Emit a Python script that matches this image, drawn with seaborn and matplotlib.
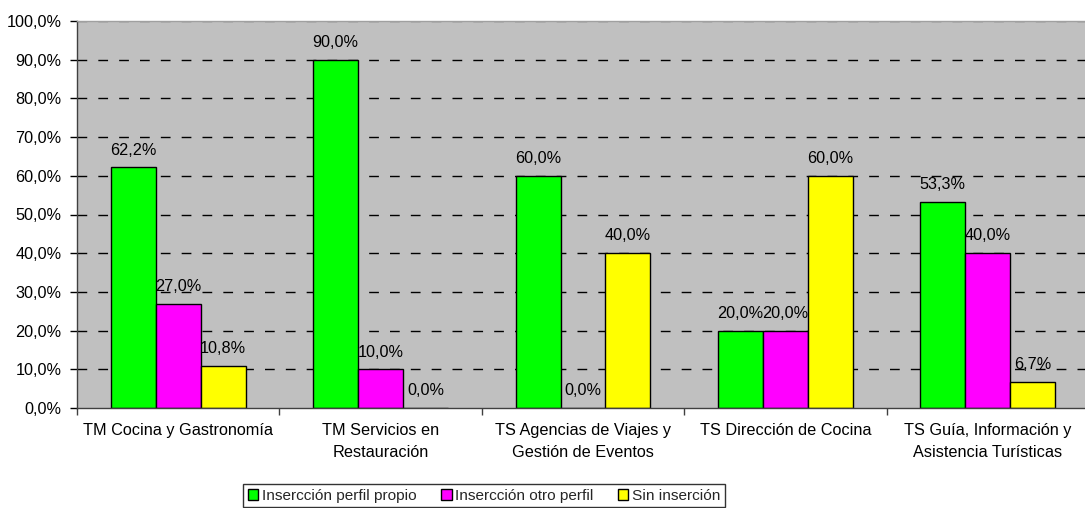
import matplotlib
matplotlib.use("Agg")
import matplotlib.pyplot as plt
import seaborn as sns
import pandas as pd
from matplotlib.patches import Patch
from matplotlib.ticker import FixedLocator, FuncFormatter

categories = [
    "TM Cocina y Gastronomía",
    "TM Servicios en\nRestauración",
    "TS Agencias de Viajes y\nGestión de Eventos",
    "TS Dirección de Cocina",
    "TS Guía, Información y\nAsistencia Turísticas",
]
series_names = ["Insercción perfil propio", "Insercción otro perfil", "Sin inserción"]
propio = [62.2, 90.0, 60.0, 20.0, 53.3]
otro = [27.0, 10.0, 0.0, 20.0, 40.0]
sin = [10.8, 0.0, 40.0, 60.0, 6.7]
colors = ["#00FF00", "#FF00FF", "#FFFF00"]
yticks = [0, 10, 20, 30, 40, 50, 60, 70, 80, 90, 100]

rows = []
for name, vals in zip(series_names, [propio, otro, sin]):
    for c, v in zip(categories, vals):
        rows.append({"cat": c, "serie": name, "val": v})
df = pd.DataFrame(rows)

sns.set_theme(style="white")
plt.rcParams["font.family"] = ["Liberation Sans", "DejaVu Sans"]
FS = 11.7

fig = plt.figure(figsize=(10.85, 5.08), dpi=100)
ax = fig.add_axes([77 / 1085, 1 - 408 / 508, (1089 - 77) / 1085, (408 - 21) / 508])

sns.barplot(data=df, x="cat", y="val", hue="serie", order=categories,
            hue_order=series_names, palette=colors, width=2 / 3,
            edgecolor="black", linewidth=1, saturation=1, ax=ax, legend=False)

ax.set_facecolor("#C0C0C0")
ax.set_ylim(0, 100)
ax.set_xlim(-0.5, len(categories) - 0.5)
ax.set_xlabel("")
ax.set_ylabel("")

ax.yaxis.set_major_locator(FixedLocator(yticks))
ax.yaxis.set_major_formatter(FuncFormatter(lambda v, p: f"{v:.1f}%".replace(".", ",")))
ax.tick_params(axis="y", which="major", length=5, width=1, color="black",
               labelsize=FS, pad=6, left=True, labelcolor="black")
for y in yticks[1:-1]:
    ax.axhline(y, color="black", linestyle=(0, (7, 8)), linewidth=1, zorder=0.5)
ax.axhline(100, color="#606060", linestyle=(0, (7, 8)), linewidth=1, zorder=0.5)

ax.set_xticks(range(len(categories)))
ax.set_xticklabels(categories, fontsize=FS, linespacing=1.6, color="black")
ax.tick_params(axis="x", which="major", length=0, pad=11)
ax.xaxis.set_minor_locator(FixedLocator([i + 0.5 for i in range(-1, len(categories))]))
ax.tick_params(axis="x", which="minor", length=5, width=1, color="#404040", bottom=True)

for side in ["left", "bottom"]:
    ax.spines[side].set_color("#404040")
    ax.spines[side].set_linewidth(1)
for side in ["top", "right"]:
    ax.spines[side].set_color("#A0A0A0")
    ax.spines[side].set_linewidth(1)

for cont in ax.containers:
    labels = [f"{b.get_height():.1f}%".replace(".", ",") for b in cont]
    ax.bar_label(cont, labels=labels, padding=7, fontsize=FS, color="black")

handles = [Patch(facecolor=c, edgecolor="black", linewidth=1) for c in colors]
leg = fig.legend(handles, series_names, loc="upper left",
                 bbox_to_anchor=(243 / 1085, 1 - 484 / 508), ncol=3,
                 fontsize=11.1, frameon=True, fancybox=False,
                 handlelength=0.7, handleheight=0.7, handletextpad=0.2,
                 columnspacing=1.6, borderpad=0.3, borderaxespad=0)
leg.get_frame().set_edgecolor("black")
leg.get_frame().set_linewidth(1)

fig.savefig("out.png", dpi=100, facecolor="white")
